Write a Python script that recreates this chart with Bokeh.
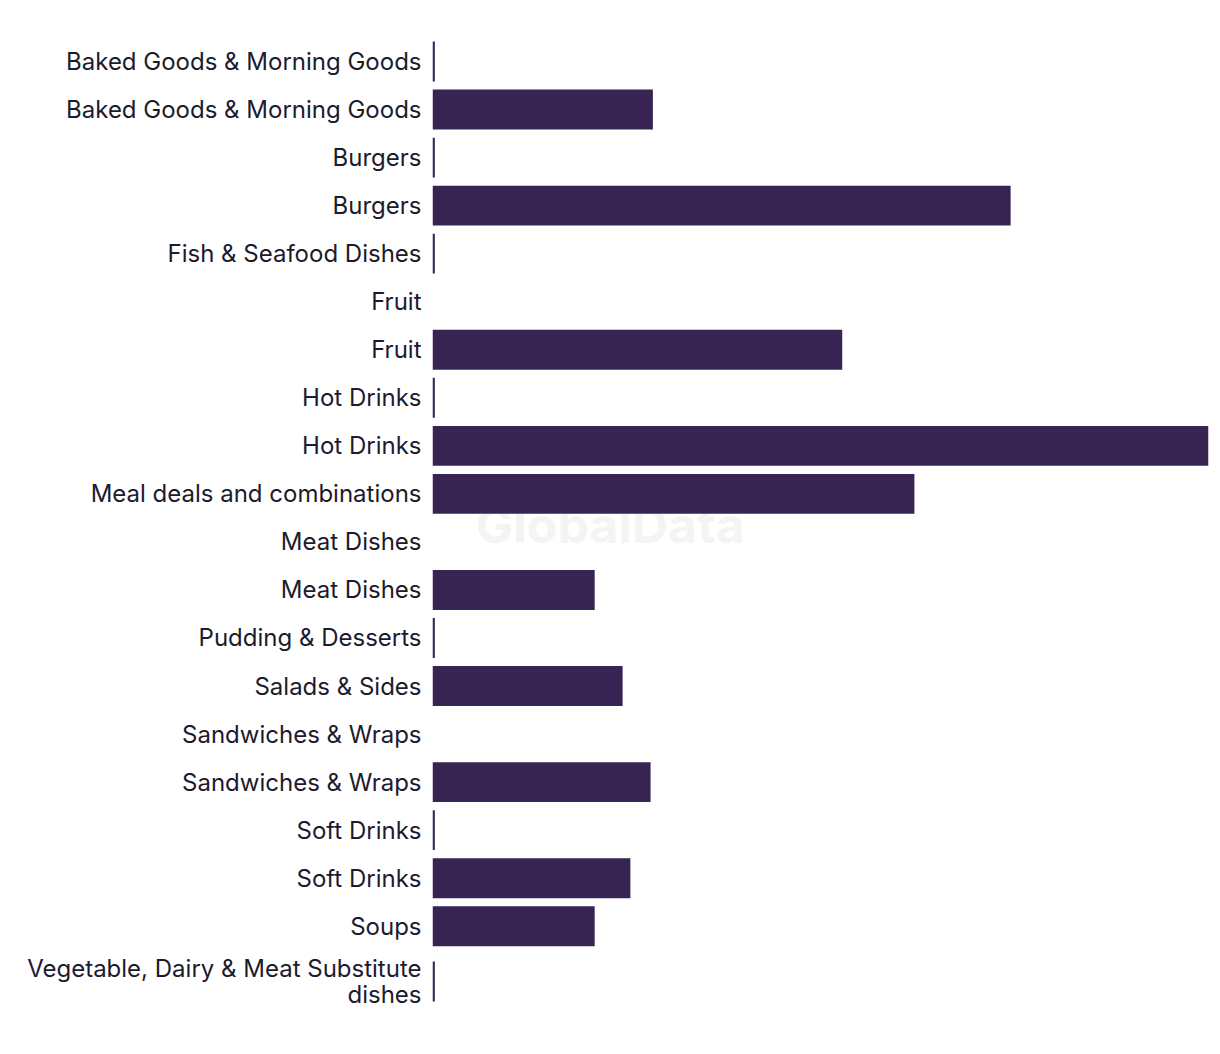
from bokeh.plotting import figure
from bokeh.models import Range1d, FixedTicker, Label, ColumnDataSource
from bokeh.embed import file_html
from bokeh.resources import INLINE

categories = [
    "Baked Goods & Morning Goods",
    "Baked Goods & Morning Goods",
    "Burgers",
    "Burgers",
    "Fish & Seafood Dishes",
    "Fruit",
    "Fruit",
    "Hot Drinks",
    "Hot Drinks",
    "Meal deals and combinations",
    "Meat Dishes",
    "Meat Dishes",
    "Pudding & Desserts",
    "Salads & Sides",
    "Sandwiches & Wraps",
    "Sandwiches & Wraps",
    "Soft Drinks",
    "Soft Drinks",
    "Soups",
    "Vegetable, Dairy & Meat Substitute\ndishes",
]
values = [0.3, 28.4, 0.3, 74.5, 0.3, 0.0, 52.8, 0.3, 100.0, 62.1,
          0.0, 20.9, 0.3, 24.5, 0.0, 28.1, 0.3, 25.5, 20.9, 0.3]

BAR = "#372453"
TXT = "#1c1b2e"
FONT = "Inter"

n = len(categories)
# rows are evenly spaced; the two-line last row gets a little extra room
pos = [float(i) + (0.15 if "\n" in c else 0.0) for i, c in enumerate(categories)]
src = ColumnDataSource(dict(y=pos, v=values))

p = figure(width=1220, height=1054, output_backend="svg", toolbar_location=None,
           x_range=Range1d(0, max(values)), y_range=Range1d(pos[-1] + 0.5, -0.5),
           min_border_left=432, min_border_right=12, min_border_top=37, min_border_bottom=49)

wm = Label(x=max(values) * 0.229, y=9.65, text="GlobalData", text_font=FONT,
           text_font_style="bold", text_font_size="50px", text_color="#f4f4f4",
           text_align="center", text_baseline="middle", level="underlay")
p.add_layout(wm)

p.hbar(y="y", right="v", left=0, height=0.83, fill_color=BAR, line_color=None, source=src)

p.xaxis.visible = False
p.xgrid.visible = False
p.ygrid.visible = False
p.outline_line_color = None

ax = p.yaxis[0]
ax.ticker = FixedTicker(ticks=pos)
ax.major_label_overrides = {pv: c for pv, c in zip(pos, categories)}
ax.axis_line_color = None
ax.major_tick_line_color = None
ax.minor_tick_line_color = None
ax.major_label_standoff = 5
ax.major_label_text_font = FONT
ax.major_label_text_font_size = "24px"
ax.major_label_text_line_height = 0.92
ax.major_label_text_color = TXT

open("out.html", "w").write(file_html(p, INLINE))
